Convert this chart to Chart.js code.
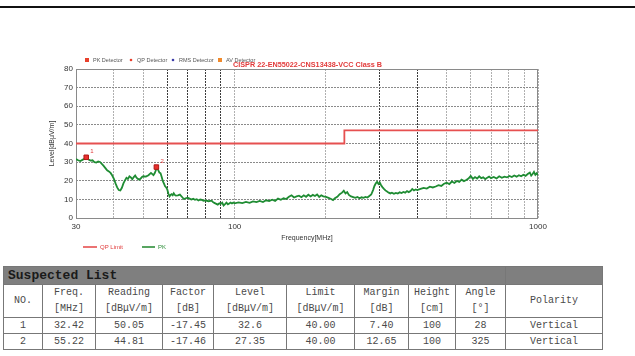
<!DOCTYPE html>
<html>
<head>
<meta charset="utf-8">
<script src="https://cdn.jsdelivr.net/npm/chart.js@4.4.1/dist/chart.umd.min.js"></script>
<style>
  body { margin: 0; width: 635px; height: 356px; background: #fff; position: relative; overflow: hidden; font-family: "Liberation Sans", Arial, sans-serif; }
  #topRule { position: absolute; left: 0; top: 6px; width: 635px; border-top: 2px solid #111; }
  #wrap { position: absolute; left: 0; top: 0; width: 635px; height: 258px; }
  #list { position: absolute; left: 3px; top: 266px; border-collapse: collapse; table-layout: fixed; width: 599px;
          font-family: "Liberation Mono", "Courier New", monospace; font-size: 10px; color: #4a4a4a; }
  #list td { border: 1px solid #777; text-align: center; padding: 0; line-height: 15px; white-space: nowrap; }
  #list tr.cap td { background: #7f7f7f; color: #1a1a1a; font-weight: bold; font-size: 13px; text-align: left; padding-left: 4px; height: 17px; line-height: 17px; }
  #list tr.cap td.blank { border-left: 1px solid #ddd; }
  #list tr.head td { height: 32px; line-height: 16px; }
  #list tr.row td { height: 15px; }
</style>
</head>
<body>
<div id="topRule"></div>
<div id="wrap"><canvas id="emiChart" width="635" height="258"></canvas></div>
<table id="list">
  <colgroup>
    <col style="width:39px"><col style="width:53px"><col style="width:67px"><col style="width:51px"><col style="width:73px">
    <col style="width:68px"><col style="width:54px"><col style="width:47px"><col style="width:50px"><col style="width:97px">
  </colgroup>
  <tbody id="listBody">
    <tr class="cap"><td colspan="9">Suspected List</td><td class="blank"></td></tr>
    <tr class="head">
      <td>NO.</td><td>Freq.<br>[MHz]</td><td>Reading<br>[dBμV/m]</td><td>Factor<br>[dB]</td><td>Level<br>[dBμV/m]</td>
      <td>Limit<br>[dBμV/m]</td><td>Margin<br>[dB]</td><td>Height<br>[cm]</td><td>Angle<br>[°]</td><td>Polarity</td>
    </tr>
  </tbody>
</table>
<script>
// PK sweep
const traceFreq = [30, 30.5, 31, 31.5, 32, 32.42, 33, 33.5, 34, 34.5, 35, 35.5, 36, 36.5, 37, 37.5, 38, 38.5, 39, 39.5,
  40, 40.5, 41, 41.5, 42, 42.5, 43, 43.5, 44, 44.5, 45, 45.5, 46, 46.5, 47, 47.5, 48, 48.5, 49, 49.5,
  50, 51, 52, 53, 54, 54.5, 55, 55.22, 55.8, 56.5, 57, 57.5, 58, 58.5, 59, 59.5, 60, 60.5, 61, 61.5,
  62, 62.5, 63, 63.5, 64, 65, 66, 67, 68, 69, 70, 71, 72, 73, 74, 75, 76, 77, 78, 79,
  80, 82, 84, 85, 86, 87, 88, 89, 90, 91, 92, 93, 94, 95, 96, 97, 98, 99, 100, 103,
  106, 109, 112, 115, 118, 121, 124, 127, 130, 133, 136, 139, 142, 145, 148, 151, 154, 157, 160, 163,
  166, 169, 172, 175, 178, 181, 184, 187, 190, 193, 196, 200, 204, 208, 211, 214, 218, 222, 226, 229,
  232, 235, 238, 242, 246, 250, 254, 258, 262, 266, 270, 274, 278, 282, 286, 289, 292, 295, 298, 301,
  304, 307, 310, 314, 318, 322, 326, 330, 335, 340, 345, 350, 355, 360, 365, 370, 375, 380, 385, 390,
  395, 400, 410, 420, 430, 440, 450, 460, 470, 480, 490, 500, 510, 520, 530, 540, 550, 560, 570, 580,
  590, 600, 610, 620, 630, 640, 650, 660, 670, 680, 690, 700, 715, 730, 745, 760, 775, 790, 805, 820,
  835, 850, 865, 880, 895, 910, 925, 940, 950, 960, 970, 980, 990, 1000];
const traceLevel = [31.6, 31.0, 30.6, 31.2, 31.8, 32.6, 31.4, 30.8, 31.0, 30.0, 29.8, 30.4, 30.1, 29.0, 28.0, 26.8, 25.6, 25.0, 24.2, 22.8,
  21.0, 18.6, 16.4, 15.0, 14.8, 16.2, 18.6, 20.2, 21.6, 21.0, 22.4, 21.8, 20.8, 22.0, 22.8, 21.6, 21.0, 20.6, 21.2, 22.0,
  22.4, 22.2, 23.0, 24.2, 23.0, 24.0, 25.6, 27.35, 26.2, 24.4, 24.0, 22.0, 19.8, 18.5, 17.0, 16.4, 15.2, 13.0, 11.6, 12.4,
  12.8, 12.2, 13.3, 12.4, 12.0, 12.2, 12.6, 11.4, 10.2, 10.6, 10.9, 10.4, 9.9, 10.3, 9.8, 10.1, 9.4, 9.9, 9.7, 9.2,
  9.4, 9.0, 9.3, 8.4, 8.0, 7.6, 7.2, 7.9, 7.6, 8.2, 6.7, 7.4, 8.2, 7.3, 7.8, 8.3, 7.8, 8.3, 7.9, 8.4,
  8.0, 8.6, 8.1, 8.9, 8.5, 9.2, 8.6, 9.5, 9.1, 9.8, 9.2, 10.4, 9.8, 10.6, 10.2, 11.4, 12.2, 11.0, 11.6, 12.0,
  11.2, 12.2, 11.4, 12.5, 11.6, 12.4, 11.8, 12.6, 11.3, 12.2, 11.6, 11.3, 10.8, 10.2, 9.6, 10.6, 11.4, 12.8, 13.6, 14.6,
  13.2, 13.9, 12.4, 11.6, 11.2, 10.8, 11.3, 10.6, 11.1, 10.8, 11.3, 11.0, 11.8, 12.6, 15.0, 17.2, 18.6, 19.4, 18.2, 19.0,
  17.6, 16.6, 15.8, 14.8, 14.2, 13.6, 13.2, 13.6, 13.0, 13.5, 13.1, 13.8, 13.4, 14.0, 13.6, 14.4, 13.9, 14.5, 15.6, 14.8,
  15.3, 15.0, 15.6, 16.2, 15.8, 16.8, 16.4, 16.9, 17.6, 17.2, 18.4, 18.9, 18.2, 19.6, 18.8, 19.9, 19.4, 20.6, 19.8, 20.4,
  21.2, 22.6, 21.0, 22.0, 21.2, 22.4, 21.4, 21.8, 20.9, 21.6, 22.2, 21.4, 22.0, 21.2, 22.4, 21.6, 22.2, 21.8, 22.6, 22.0,
  22.8, 22.2, 23.0, 22.4, 23.2, 22.6, 23.6, 24.4, 22.8, 23.6, 24.8, 23.2, 24.0, 23.0];

// QP limit (CISPR 22 class B, 3 m)
const limitFreq = [30, 230, 230, 1000];
const limitLevel = [40, 40, 47, 47];

// suspected list
const listNo = [1, 2];
const listFreq = [32.42, 55.22];
const listReading = [50.05, 44.81];
const listFactor = [-17.45, -17.46];
const listLevel = [32.6, 27.35];
const listLimit = [40.00, 40.00];
const listMargin = [7.40, 12.65];
const listHeight = [100, 100];
const listAngle = [28, 325];
const listPolarity = ['Vertical', 'Vertical'];

// axes
const xTicks = [30, 40, 50, 60, 70, 80, 90, 100, 200, 300, 400, 500, 600, 700, 800, 900, 1000];
const xLabelled = [30, 100, 1000];
const xDark = [60, 70, 80, 90, 300, 400];

const topLegend = [
  { text: 'PK Detector', color: '#e8402c', shape: 'rect', x: 87 },
  { text: 'QP Detector', color: '#e8402c', shape: 'dot', x: 131 },
  { text: 'RMS Detector', color: '#3c3ca8', shape: 'dot', x: 173 },
  { text: 'AV Detector', color: '#f08a2c', shape: 'rect', x: 220 }
];
const standardText = 'CISPR 22-EN55022-CNS13438-VCC Class B';

// table rows
const body = document.getElementById('listBody');
listNo.forEach((n, i) => {
  const tr = document.createElement('tr');
  tr.className = 'row';
  const cells = [n, listFreq[i].toFixed(2), listReading[i].toFixed(2), listFactor[i].toFixed(2), String(listLevel[i]),
    listLimit[i].toFixed(2), listMargin[i].toFixed(2), listHeight[i], listAngle[i], listPolarity[i]];
  cells.forEach(c => {
    const td = document.createElement('td');
    td.textContent = c;
    tr.appendChild(td);
  });
  body.appendChild(tr);
});

// texts and frame around the plot
const decor = {
  id: 'decor',
  beforeDatasetsDraw(chart) {
    const { ctx, chartArea: a } = chart;
    ctx.save();
    ctx.strokeStyle = '#8a8a8a';
    ctx.lineWidth = 1;
    ctx.strokeRect(a.left + 0.5, a.top + 0.5, a.right - a.left - 1, a.bottom - a.top);
    ctx.restore();
  },
  afterDatasetsDraw(chart) {
    const { ctx } = chart;
    const xs = chart.scales.x, ys = chart.scales.y;
    ctx.save();
    // marker numbers
    ctx.fillStyle = '#e03a3a';
    ctx.font = '6px "Liberation Sans", Arial, sans-serif';
    ctx.textBaseline = 'middle';
    listNo.forEach((n, i) => {
      ctx.fillText(String(n), xs.getPixelForValue(listFreq[i]) + 4, ys.getPixelForValue(listLevel[i]) - 6);
    });
    // detector legend
    ctx.font = '5.5px "Liberation Sans", Arial, sans-serif';
    topLegend.forEach(it => {
      ctx.fillStyle = it.color;
      if (it.shape === 'rect') ctx.fillRect(it.x - 2, 58, 4, 4);
      else { ctx.beginPath(); ctx.arc(it.x, 60, 1.3, 0, Math.PI * 2); ctx.fill(); }
      ctx.fillStyle = '#555';
      ctx.fillText(it.text, it.x + 6, 60);
    });
    // standard name, sized to span 233..382
    ctx.font = 'bold 8px "Liberation Sans", Arial, sans-serif';
    const size = 8 * 149 / ctx.measureText(standardText).width;
    ctx.font = 'bold ' + size.toFixed(2) + 'px "Liberation Sans", Arial, sans-serif';
    ctx.fillStyle = '#e23a3a';
    ctx.fillText(standardText, 233, 65);
    // series legend
    ctx.lineWidth = 1.6;
    ctx.strokeStyle = '#e65050';
    ctx.beginPath(); ctx.moveTo(83, 247); ctx.lineTo(97, 247); ctx.stroke();
    ctx.strokeStyle = '#2f8f3a';
    ctx.beginPath(); ctx.moveTo(142, 247); ctx.lineTo(155, 247); ctx.stroke();
    ctx.font = '6px "Liberation Sans", Arial, sans-serif';
    ctx.fillStyle = '#e03a3a';
    ctx.fillText('QP Limit', 100, 247);
    ctx.fillStyle = '#2f8f3a';
    ctx.fillText('PK', 158, 247);
    ctx.restore();
  }
};

const ctx = document.getElementById('emiChart').getContext('2d');
new Chart(ctx, {
  type: 'line',
  data: {
    datasets: [
      {
        label: 'Markers',
        type: 'scatter',
        data: listFreq.map((f, i) => ({ x: f, y: listLevel[i] })),
        pointStyle: 'rect',
        pointRadius: 3.2,
        backgroundColor: '#e8302c',
        borderColor: '#b01818',
        borderWidth: 1,
        showLine: false,
        order: 0
      },
      {
        label: 'QP Limit',
        data: limitFreq.map((f, i) => ({ x: f, y: limitLevel[i] })),
        borderColor: '#e65050',
        borderWidth: 1.8,
        pointRadius: 0,
        tension: 0,
        order: 1
      },
      {
        label: 'PK',
        data: traceFreq.map((f, i) => ({ x: f, y: traceLevel[i] })),
        borderColor: '#1f8c33',
        borderWidth: 1.8,
        pointRadius: 0,
        tension: 0,
        order: 2
      }
    ]
  },
  options: {
    responsive: false,
    animation: false,
    layout: { padding: { left: 0, top: 69, right: 97, bottom: 0 } },
    plugins: { legend: { display: false }, tooltip: { enabled: false } },
    scales: {
      x: {
        type: 'logarithmic',
        min: 30,
        max: 1000,
        afterBuildTicks: scale => { scale.ticks = xTicks.map(v => ({ value: v })); },
        afterFit: scale => { scale.height = 40; },
        ticks: {
          autoSkip: false,
          maxRotation: 0,
          padding: 4,
          color: '#333',
          font: { size: 8, family: '"Liberation Sans", Arial, sans-serif' },
          callback: v => xLabelled.includes(v) ? String(v) : ''
        },
        grid: {
          drawTicks: false,
          color: c => xDark.includes(c.tick && c.tick.value) ? '#3c3c3c' : '#b0b0b0',
          lineWidth: 1
        },
        border: { display: false, dash: [2, 1] },
        title: {
          display: true,
          text: 'Frequency[MHz]',
          color: '#333',
          font: { size: 7, family: '"Liberation Sans", Arial, sans-serif' },
          padding: { top: 0, bottom: 15.5 }
        }
      },
      y: {
        min: 0,
        max: 80,
        afterFit: scale => { scale.width = 76; },
        ticks: {
          stepSize: 10,
          padding: 3,
          color: '#333',
          font: { size: 8, family: '"Liberation Sans", Arial, sans-serif' }
        },
        grid: { drawTicks: false, color: '#8a8a8a', lineWidth: 1 },
        border: { display: false, dash: [2, 1] },
        title: {
          display: true,
          text: 'Level[dBμV/m]',
          color: '#333',
          font: { size: 7, family: '"Liberation Sans", Arial, sans-serif' },
          padding: { top: 48, bottom: 0 }
        }
      }
    }
  },
  plugins: [decor]
});
</script>
</body>
</html>
